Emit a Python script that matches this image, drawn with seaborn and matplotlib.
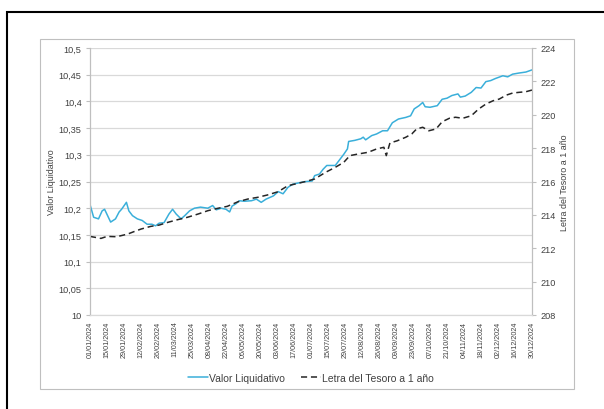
import numpy as np
import pandas as pd
import matplotlib
matplotlib.use("Agg")
import matplotlib.pyplot as plt
import matplotlib.dates as mdates
from matplotlib.ticker import FuncFormatter
from matplotlib.patches import Rectangle
import seaborn as sns

# values (day offset from 01/01/2024)
vl_days = [0, 3, 7, 10, 12, 17, 21, 24, 26, 30, 32, 35, 39, 43, 47, 51, 54, 57, 61, 65,
           68, 71, 75, 78, 82, 86, 91, 97, 101, 104, 108, 112, 115, 117, 120, 123, 127, 133,
           137, 141, 145, 151, 155, 159, 163, 167, 173, 178, 183, 185, 189, 192, 195, 202,
           205, 209, 212, 213, 218, 223, 225, 227, 232, 236, 241, 245, 249, 254, 260, 264,
           267, 271, 274, 276, 280, 286, 290, 294, 298, 303, 305, 309, 314, 318, 322, 326,
           330, 334, 340, 344, 348, 353, 359, 364]
vl_vals = [10.207, 10.183, 10.180, 10.195, 10.198, 10.174, 10.180, 10.193, 10.198, 10.211,
           10.195, 10.186, 10.180, 10.177, 10.170, 10.170, 10.167, 10.172, 10.173, 10.189,
           10.198, 10.189, 10.180, 10.186, 10.195, 10.200, 10.202, 10.200, 10.205, 10.197,
           10.200, 10.198, 10.193, 10.204, 10.208, 10.214, 10.213, 10.214, 10.217, 10.211,
           10.217, 10.223, 10.231, 10.227, 10.239, 10.245, 10.248, 10.250, 10.251, 10.261,
           10.264, 10.273, 10.280, 10.280, 10.289, 10.301, 10.311, 10.325, 10.327, 10.330,
           10.333, 10.328, 10.336, 10.339, 10.345, 10.345, 10.360, 10.367, 10.370, 10.373,
           10.386, 10.392, 10.398, 10.390, 10.389, 10.392, 10.404, 10.406, 10.411, 10.414,
           10.408, 10.410, 10.417, 10.426, 10.425, 10.437, 10.439, 10.443, 10.448, 10.446,
           10.451, 10.453, 10.455, 10.459]

lt_days = [0, 9, 14, 22, 31, 36, 42, 50, 57, 64, 72, 80, 89, 97, 105, 113, 122, 130, 138,
           146, 155, 163, 169, 177, 185, 194, 202, 209, 214, 221, 229, 236, 242, 244, 247,
           253, 260, 265, 269, 274, 279, 285, 290, 296, 301, 307, 314, 320, 326, 332, 337,
           343, 348, 353, 359, 364]
lt_vals = [212.71, 212.59, 212.71, 212.69, 212.85, 212.99, 213.15, 213.31, 213.39, 213.55,
           213.71, 213.85, 214.05, 214.25, 214.39, 214.51, 214.79, 214.95, 215.05, 215.19,
           215.39, 215.75, 215.85, 215.99, 216.15, 216.55, 216.85, 217.15, 217.55, 217.65,
           217.75, 217.95, 218.05, 217.55, 218.31, 218.44, 218.65, 218.85, 219.15, 219.25,
           219.04, 219.15, 219.58, 219.79, 219.85, 219.79, 219.94, 220.34, 220.64, 220.84,
           220.94, 221.18, 221.30, 221.34, 221.38, 221.48]

start = pd.Timestamp("2024-01-01")
vl = pd.DataFrame({"fecha": start + pd.to_timedelta(vl_days, unit="D"), "valor": vl_vals})
lt = pd.DataFrame({"fecha": start + pd.to_timedelta(lt_days, unit="D"), "valor": lt_vals})

sns.set_style("white")
plt.rcParams["font.family"] = ["Liberation Sans", "DejaVu Sans"]
grey = "#BFBFBF"
txt = "#404040"

fig = plt.figure(figsize=(6.04, 4.10), dpi=100)
ax = fig.add_axes([90 / 604, 1 - 316 / 410, 442 / 604, 267 / 410])
ax2 = ax.twinx()

sns.lineplot(data=vl, x="fecha", y="valor", ax=ax, color="#3AAFDA", lw=1.1,
             label="Valor Liquidativo", legend=False)
sns.lineplot(data=lt, x="fecha", y="valor", ax=ax2, color="#262626", lw=1.1,
             linestyle=(0, (4, 2.5)), label="Letra del Tesoro a 1 año", legend=False)

ax.set_ylim(10, 10.5)
ax.set_yticks(np.arange(10, 10.501, 0.05))
ax.yaxis.set_major_formatter(FuncFormatter(lambda v, p: f"{v:.2f}".rstrip("0").rstrip(".").replace(".", ",")))
ax2.set_ylim(208, 224)
ax2.set_yticks(np.arange(208, 225, 2))

ax.set_xlim(start, pd.Timestamp("2024-12-30"))
ax.set_xticks(pd.date_range("2024-01-01", "2024-12-30", freq="14D"))
ax.xaxis.set_major_formatter(mdates.DateFormatter("%d/%m/%Y"))
ax.tick_params(axis="x", rotation=90, labelsize=5.2, colors=txt, length=0, pad=4)
ax.tick_params(axis="y", labelsize=6.6, colors=txt, length=3, color=grey, left=True, pad=3)
ax2.tick_params(axis="y", labelsize=6.6, colors=txt, length=3, color=grey, right=True, pad=3)

ax.grid(axis="y", color="#D9D9D9", lw=0.9)
ax.grid(axis="x", visible=False)
for a in (ax, ax2):
    a.spines["top"].set_visible(False)
    a.spines["bottom"].set_color("#D9D9D9")
    a.spines["left"].set_color(grey)
    a.spines["right"].set_color(grey)
    a.set_xlabel("")
ax.set_ylabel("Valor Liquidativo", fontsize=6.4, color=txt, labelpad=2)
ax2.set_ylabel("Letra del Tesoro a 1 año", fontsize=6.4, color=txt, labelpad=3)

h1, l1 = ax.get_legend_handles_labels()
h2, l2 = ax2.get_legend_handles_labels()
fig.legend(h1 + h2, l1 + l2, loc="center", bbox_to_anchor=(311 / 604, 1 - 379 / 410),
           ncol=2, frameon=False, fontsize=7.5, handlelength=1.9, handletextpad=0.1,
           columnspacing=1.6, labelcolor=txt)

# chart area border and outer frame
fig.patches.append(Rectangle((40 / 604, 1 - 390 / 410), 534 / 604, 350 / 410, transform=fig.transFigure,
                             fill=False, edgecolor=grey, lw=0.8))
fig.patches.append(Rectangle((7 / 604, -0.1), 1.2, 1 - 13 / 410 + 0.1, transform=fig.transFigure,
                             fill=False, edgecolor="black", lw=1.5, clip_on=True))

fig.savefig("out.png", dpi=100)
